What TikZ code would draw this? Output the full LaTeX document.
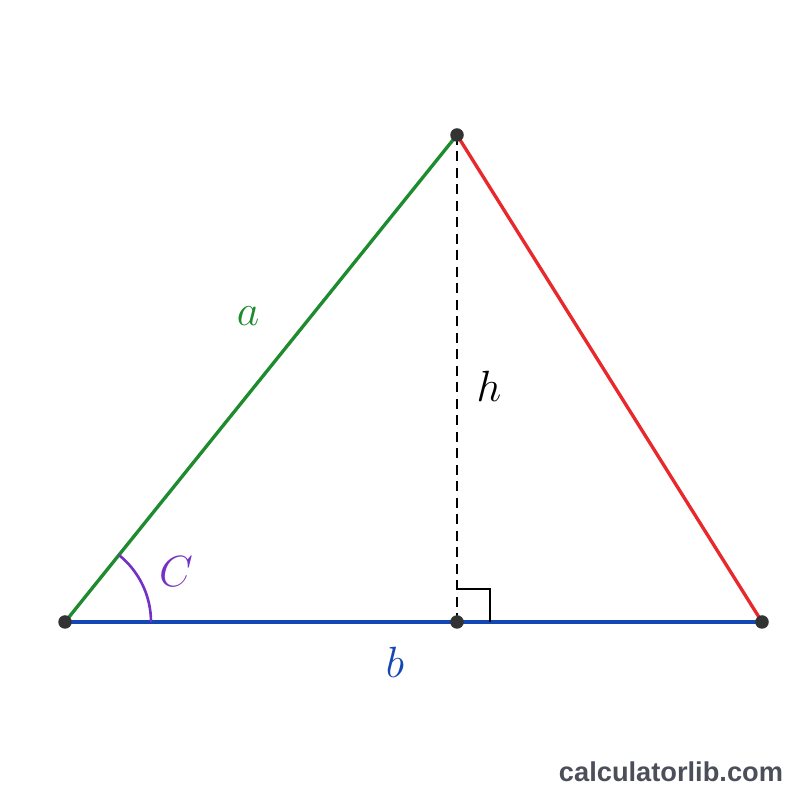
\documentclass[tikz,border=0pt]{standalone}
\usepackage{fontspec}
\newfontfamily\sitefont{Liberation Sans}
\usepackage{xcolor}
\usetikzlibrary{positioning,calc}

\definecolor{sidea}{HTML}{1E8B2E}
\definecolor{sideb}{HTML}{1446B4}
\definecolor{sidec}{HTML}{E8282A}
\definecolor{anglec}{HTML}{7432C4}
\definecolor{dotgray}{HTML}{333333}
\definecolor{sitegray}{HTML}{4A4F5A}

\begin{document}
\begin{tikzpicture}[
    side/.style={line width=1.9pt},
    vertex/.style={circle, fill=dotgray, inner sep=0pt, minimum size=0.27cm},
    lbl/.style={font=\fontsize{25}{29}\selectfont}
  ]
      \useasboundingbox (0,0) rectangle (16,16);
      \def \base {3.56}
      \def \arcr {1.72} % radius of the angle mark
      \coordinate (A) at (1.30,\base);
      \coordinate (T) at (9.14,13.30);
      \coordinate (B) at (15.24,\base);
      \coordinate (F) at (9.14,\base);

      % sides
      \draw[side, sideb] (A) -- (B);
      \draw[side, sidea] (A) -- (T);
      \draw[side, sidec] (T) -- (B);
      % height and right angle
      \draw[line width=1.4pt, dash pattern=on 0.2cm off 0.13cm] (T) -- (F);
      \draw[line width=1.5pt] ($(F)+(0,0.66)$) -| ($(F)+(0.66,0)$);
      % angle C
      \draw[line width=1.5pt, anglec] ($(A)+(\arcr,0)$) arc (0:{atan2(9.74,7.84)}:\arcr);

      \node[vertex] (vA) at (A) {};
      \node[vertex] (vT) at (T) {};
      \node[vertex] (vB) at (B) {};
      \node[vertex] (vF) at (F) {};

      \node[lbl, sidea] (la) at (4.96,9.68) {$a$};
      \node[lbl] (lh) at (9.78,8.28) {$h$};
      \node[lbl, anglec] (lC) at (3.52,4.56) {$C$};
      \node[lbl, sideb] (lb) at (7.90,2.76) {$b$};

      \node[font=\sitefont\bfseries\fontsize{15.5}{18}\selectfont, sitegray] (site) at (13.42,0.56) {calculatorlib.com};
    \end{tikzpicture}
\end{document}
